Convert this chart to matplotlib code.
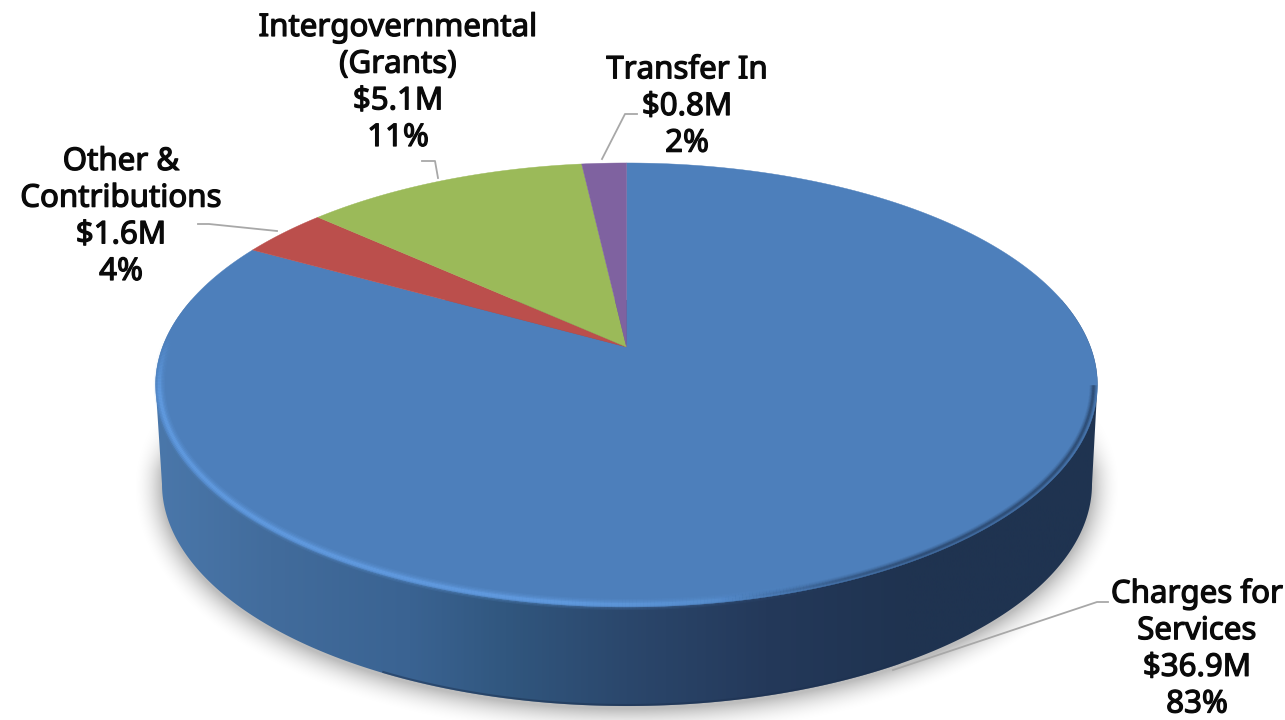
import numpy as np
import matplotlib
matplotlib.use("Agg")
import matplotlib.pyplot as plt
import matplotlib.patheffects as pe
from matplotlib.collections import LineCollection
from matplotlib.colors import LinearSegmentedColormap, to_rgb
from matplotlib.patches import Polygon

labels = ["Charges for\nServices", "Other &\nContributions", "Intergovernmental\n(Grants)", "Transfer In"]
values = [36.9, 1.6, 5.1, 0.8]
percents = [83, 4, 11, 2]
colors = ["#4d7fbb", "#bb4f4c", "#9bba59", "#7f62a0"]

# centre of each label and its leader line, in pixels
label_pos = [(1197, 649), (121, 217), (398, 83), (687, 107)]
leaders = [
    [(893, 670), (1097, 602), (1108, 602)],
    [(198, 224), (209, 224), (277, 231)],
    [(422, 161), (435, 161), (438, 178)],
    [(637, 114), (625, 114), (602, 159)],
]

W, H = 1285, 720
APEX_X, APEX_Y = 626.5, 347
A, B, K = 464, 215.5, 0.171
LOW_X, LOW_Y, LOW_RX, LOW_RY = 627, 484, 465, 222


def project(theta, r=1.0):
    # disc in perspective, theta runs clockwise from 12 o'clock
    u, v = r * np.sin(theta), r * np.cos(theta)
    w = 1 + K * v
    return APEX_X + A * u / w, APEX_Y - B * v / w


fig = plt.figure(figsize=(W / 100, H / 100), dpi=100)
ax = fig.add_axes([0, 0, 1, 1])
ax.set_xlim(0, W)
ax.set_ylim(H, 0)
ax.axis("off")

# soft shadow round the lower half
yy, xx = np.mgrid[0:H, 0:W] + 0.5
dx, dy = xx - LOW_X, yy - (LOW_Y + 3)
rr = np.sqrt((dx / LOW_RX) ** 2 + (dy / LOW_RY) ** 2)
grad = np.sqrt(dx**2 / LOW_RX**4 + dy**2 / LOW_RY**4) / rr
dist = (rr - 1) / grad
shade = 0.26 * np.clip(1 - dist / 30, 0, 1) ** 2 * np.clip((yy - 400) / 70, 0, 1)
rgba = np.zeros((H, W, 4))
rgba[..., 3] = shade
ax.imshow(rgba, extent=(0, W, H, 0), zorder=1, aspect="auto")

# side wall with a left to right gradient
t = np.linspace(np.pi, 0, 300)
low_x = LOW_X + LOW_RX * np.cos(t)
low_y = LOW_Y + LOW_RY * np.sin(t)
th0 = np.arccos(-K)
back = np.linspace(th0, -th0, 300)
back_x, back_y = project(back)
side_pts = np.column_stack([np.r_[low_x, back_x], np.r_[low_y, back_y]])
side_cmap = LinearSegmentedColormap.from_list("side", [
    (0.0, "#4a77aa"), (0.12, "#426c9c"), (0.27, "#3a6392"), (0.37, "#31577f"),
    (0.5, "#2b476c"), (0.65, "#24395a"), (0.8, "#1f3350"), (1.0, "#1f3350"),
])
grad_img = ax.imshow(np.linspace(0, 1, 400)[None, :], cmap=side_cmap, vmin=0, vmax=1,
                     extent=(155, 1098, 720, 300), aspect="auto", zorder=2)
side = Polygon(side_pts, closed=True, transform=ax.transData, fc="none", ec="none")
ax.add_patch(side)
grad_img.set_clip_path(side)

# darker lower lip of the wall, only along the front
front = (low_x > 380) & (low_x < 900)
ax.plot(low_x[front], low_y[front] - 1.0, color="#1d3150", lw=1.5, alpha=0.5, zorder=3)

# pie slices, clockwise from the top
ends = np.cumsum(values) / np.sum(values) * 2 * np.pi
starts = np.r_[0, ends[:-1]]
for a0, a1, col in zip(starts, ends, colors):
    th = np.linspace(a0, a1, 300)
    x, y = project(th)
    ax.fill(np.r_[APEX_X, x], np.r_[APEX_Y, y], color=col, lw=0.3, zorder=4)

# bevel: bright on the lower left of the rim, dark on the lower right
rim = np.linspace(np.radians(100), np.radians(285), 500)
rx, ry = project(rim, 0.992)
pts = np.column_stack([rx, ry])
segs = np.stack([pts[:-1], pts[1:]], axis=1)
mx = (rx[:-1] + rx[1:]) / 2
my = (ry[:-1] + ry[1:]) / 2
bright = np.clip((850 - mx) / 300, 0, 1) * np.clip((my - 335) / 60, 0, 1)
dark = np.clip((mx - 720) / 200, 0, 1)
for lw, a in [(8, 0.10), (6, 0.15), (4, 0.22), (2.2, 0.35)]:
    col = np.zeros((len(segs), 4))
    col[:, :3] = to_rgb("#6cabf5")
    col[:, 3] = a * bright
    ax.add_collection(LineCollection(segs, colors=col, linewidths=lw, zorder=5, capstyle="butt"))
    col = np.zeros((len(segs), 4))
    col[:, :3] = to_rgb("#1f3350")
    col[:, 3] = a * dark
    ax.add_collection(LineCollection(segs, colors=col, linewidths=lw * 0.7, zorder=5, capstyle="butt"))

# labels and leader lines
for name, val, pct, pos, line in zip(labels, values, percents, label_pos, leaders):
    txt = f"{name}\n${val:.1f}M\n{pct}%"
    ax.text(pos[0], pos[1], txt, ha="center", va="center", fontsize=22.5,
            family="Noto Sans", color="#0a0a0a", linespacing=1.29, zorder=7,
            path_effects=[pe.withStroke(linewidth=0.9, foreground="#0a0a0a")])
    ax.plot(*zip(*line), color="#a8a8a8", lw=1.3, zorder=6, solid_joinstyle="round")

fig.savefig("out.png", dpi=100)
